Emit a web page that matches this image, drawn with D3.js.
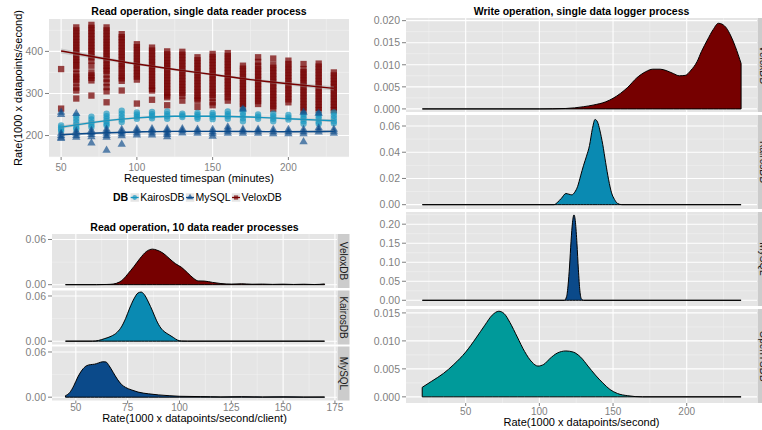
<!DOCTYPE html>
<html lang="en">
<head>
<meta charset="utf-8">
<title>Read / write rates</title>
<script src="https://cdn.jsdelivr.net/npm/d3@7"></script>
<style>
    body { margin: 0; background: #fff; }
    svg { display: block; font-family: "Liberation Sans", Arial, sans-serif; }
    .grid-major { stroke: #fff; stroke-width: 1.1; }
    .grid-minor { stroke: #f2f2f2; stroke-width: 0.6; }
    .tick { stroke: #7f7f7f; stroke-width: 1; }
    .tick-label { fill: #7f7f7f; font-size: 10.5px; }
    .title { font-weight: bold; font-size: 10.5px; text-anchor: middle; }
    .axis-title { font-size: 11px; text-anchor: middle; }
    .strip-text { font-size: 10px; fill: #1a1a1a; }
</style>
</head>
<body>
<div id="chart"></div>
<script>
// ---- data: read operation, single reader (scatter) ----
const timespans = [50, 60, 70, 80, 90, 100, 110, 120, 130, 140, 150, 160, 170, 180, 190, 200, 210, 220, 230];

const veloxRuns = [
    [358, 264],
    [457, 450, 443, 436, 429, 422, 415, 408, 401, 394, 387, 380, 373, 366, 358, 347, 340, 333, 326, 314, 307, 288],
    [463, 456, 449, 442, 435, 428, 421, 414, 407, 400, 393, 386, 378, 366, 350, 343, 337, 331, 295],
    [457, 450, 443, 436, 429, 422, 415, 408, 401, 394, 387, 380, 373, 366, 359, 354, 345, 335, 326, 315, 305, 279],
    [441, 434, 428, 421, 414, 407, 400, 393, 386, 379, 372, 365, 358, 350, 343, 336, 330, 307],
    [417, 410, 403, 396, 389, 382, 375, 368, 361, 354, 347, 340, 333, 276],
    [409, 402, 395, 388, 381, 374, 367, 360, 353, 346, 339, 332, 325, 318, 311, 307, 285],
    [400, 393, 386, 379, 372, 365, 358, 351, 344, 337, 330, 323, 316, 309, 302, 295, 291, 272],
    [399, 392, 385, 378, 371, 364, 357, 350, 343, 336, 329, 322, 315, 308, 301, 295, 283],
    [386, 379, 372, 365, 358, 351, 344, 337, 330, 323, 316, 309, 302, 295, 288, 283, 268],
    [394, 387, 380, 373, 366, 359, 352, 345, 338, 331, 324, 317, 310, 303, 296, 289, 279, 272],
    [396, 389, 382, 375, 368, 361, 354, 347, 340, 333, 326, 319, 312, 305, 298, 291, 283],
    [366, 359, 352, 345, 338, 331, 324, 317, 310, 303, 296, 289, 282, 275, 268],
    [386, 375, 366, 359, 352, 345, 338, 331, 324, 317, 310, 303, 296, 289, 282, 275],
    [383, 368, 361, 354, 347, 340, 333, 326, 319, 312, 305, 298, 291, 284, 277, 270, 263],
    [378, 370, 363, 356, 349, 342, 335, 328, 321, 314, 307, 300, 293, 286, 279],
    [370, 358, 351, 344, 337, 330, 323, 316, 309, 302, 295, 288, 281, 274, 267, 260],
    [371, 364, 357, 350, 343, 336, 329, 322, 315, 308, 301, 294, 287, 280, 273, 266, 260],
    [350, 343, 336, 329, 322, 315, 308, 301, 294, 287, 280, 273, 266, 260]
];

const kairosRuns = [
    [224, 219, 215, 210],
    [247, 240, 233, 226, 220, 215],
    [245, 238, 231, 225, 220],
    [252, 246, 240, 234, 228, 224],
    [259, 252, 245, 238, 232],
    [255, 250, 245, 240],
    [256, 251, 246, 241],
    [257, 251, 246, 240],
    [252, 248, 244],
    [254, 249, 244, 240],
    [254, 249, 244, 239],
    [257, 251, 246, 240],
    [262, 255, 248, 241, 234],
    [250, 245, 240],
    [252, 246, 240, 234],
    [249, 243, 238],
    [252, 246, 240, 234, 228],
    [252, 246, 240, 233, 228],
    [255, 248, 241, 234, 229]
];

const mysqlRuns = [
    [205, 200, 196, 193, 255, 250],
    [210, 205, 200, 196, 252],
    [212, 207, 202, 197, 182],
    [215, 210, 205, 200, 196, 165],
    [214, 209, 204, 199, 179],
    [216, 211, 206, 201],
    [216, 211, 206, 201],
    [216, 211, 206, 202, 197],
    [216, 211, 206],
    [215, 210, 205],
    [214, 209, 204, 198],
    [220, 215, 210, 205],
    [215, 210, 205, 263],
    [215, 210, 205],
    [214, 209, 204],
    [214, 209, 204],
    [214, 209, 204, 255, 185],
    [218, 213, 208, 253],
    [215, 210, 205]
];

// smoothed trend (loess), with its error band half-width
const fitX = [50, 75, 100, 125, 150, 175, 200, 230];
const veloxFit = [401, 385, 370, 357, 345, 333, 323, 312];
const kairosFit = [220, 233, 242, 246, 246, 244, 240, 235];
const mysqlFit = [202, 206, 208.5, 210, 210, 209.5, 209, 210];
const veloxSe = [6, 4, 3, 3, 3, 3, 4, 5];
const kairosSe = [4, 2.5, 2, 2, 2, 2, 2.5, 3.5];
const mysqlSe = [3, 2, 1.5, 1.5, 1.5, 1.5, 2, 3];

// ---- data: read operation, 10 reader processes (densities) ----
const readVelox = [[45,0],[60,0],[65,0.0003],[68,0.0008],[71,0.0035],[73,0.0075],[75,0.014],[78,0.024],[81,0.035],[84,0.044],[87,0.0472],[89,0.046],[92,0.042],[95,0.035],[98,0.028],[101,0.023],[104,0.0155],[107,0.008],[109,0.005],[112,0.0048],[116,0.003],[120,0.0015],[125,0.0008],[130,0.0012],[135,0.0006],[140,0.0008],[145,0.0004],[150,0.0007],[155,0.0003],[160,0.0006],[165,0.0002],[170,0.0010]];
const readKairos = [[45,0],[58,0],[61,0.001],[64,0.0035],[67,0.0065],[70,0.012],[72,0.019],[74,0.030],[76,0.044],[78,0.056],[80,0.064],[81.5,0.0652],[83,0.062],[85,0.052],[87,0.040],[89,0.027],[91,0.0175],[93,0.012],[95,0.0085],[97,0.005],[99,0.0015],[101,0.0002],[104,0],[170,0]];
const readMysql = [[45,0.002],[47,0.006],[49,0.015],[51,0.027],[53,0.036],[55,0.0415],[57,0.0432],[59,0.0438],[61,0.0455],[63,0.047],[64.5,0.0468],[66,0.042],[68,0.033],[70,0.024],[72,0.017],[74,0.013],[77,0.0095],[80,0.0068],[85,0.0045],[90,0.003],[95,0.002],[100,0.0012],[110,0.0008],[115,0.0006],[120,0.0004],[130,0.0007],[140,0.0003],[150,0.0005],[160,0.0002],[170,0.0003]];

// ---- data: write operation, single logger (densities) ----
const writeVelox = [[20.6,0],[100,0],[118,0.0001],[130,0.0005],[137,0.0009],[145,0.0016],[150,0.0024],[155,0.0035],[160,0.0049],[166,0.0070],[172,0.0084],[177,0.0090],[182,0.0090],[186,0.0087],[191,0.0080],[195,0.0075],[199,0.0076],[203,0.0088],[207,0.0107],[210,0.0130],[214,0.0156],[218,0.0180],[221.5,0.0194],[224,0.0192],[227,0.0183],[230,0.0165],[233,0.0141],[236.9,0.0103]];
const writeKairos = [[20.6,0],[110,0],[112.5,0.002],[115,0.0049],[118,0.0085],[120,0.0080],[122,0.0075],[124,0.0095],[126,0.014],[128,0.022],[130,0.030],[132,0.037],[134,0.045],[136,0.058],[137.8,0.065],[139.5,0.063],[141,0.057],[143,0.046],[145,0.032],[147,0.019],[149,0.009],[151,0.004],[153,0.001],[156,0],[236.9,0]];
const writeMysql = [[20.6,0],[117,0],[118.5,0.01],[119.5,0.04],[120.5,0.09],[121.5,0.155],[122.5,0.205],[123.5,0.2245],[124.5,0.205],[125.5,0.15],[126.5,0.08],[127.5,0.025],[128.5,0.004],[130,0],[236.9,0]];
const writeOpentsdb = [[20.5,0.0017],[27,0.0028],[35,0.0042],[42,0.0058],[50,0.0080],[57,0.0105],[63,0.0128],[68,0.0146],[72.5,0.0153],[76,0.0149],[80,0.0133],[85,0.0107],[90,0.0081],[95,0.0062],[99,0.0055],[103,0.0058],[107,0.0068],[112,0.0078],[118,0.0082],[123,0.0080],[128,0.0071],[133,0.0055],[138,0.0039],[143,0.0025],[148,0.0013],[153,0.0006],[160,0.0002],[170,0],[236.9,0]];

const COLORS = {
    VeloxDB: "#760000",
    KairosDB: "#0a8ab2",
    MySQL: "#0b4a8a",
    OpenTSDB: "#009a9a"
};

const WIDTH = 762, HEIGHT = 430;

let svg = d3.select("#chart").append("svg")
    .attr("width", WIDTH)
    .attr("height", HEIGHT)
    .style("overflow", "hidden");

// draws the grey panel, grid lines and axes for one facet
function drawPanel(x, y, opts) {
    let g = svg.append("g");
    let [x0, x1] = x.range();
    let [y0, y1] = y.range();   // y0 = bottom, y1 = top
    g.append("rect")
        .attr("x", x0).attr("y", y1)
        .attr("width", x1 - x0).attr("height", y0 - y1)
        .attr("fill", "#e5e5e5");

    g.selectAll(".gx-minor").data(opts.xMinor).enter().append("line")
        .attr("class", "grid-minor")
        .attr("x1", d => x(d)).attr("x2", d => x(d))
        .attr("y1", y1).attr("y2", y0);
    g.selectAll(".gy-minor").data(opts.yMinor).enter().append("line")
        .attr("class", "grid-minor")
        .attr("x1", x0).attr("x2", x1)
        .attr("y1", d => y(d)).attr("y2", d => y(d));
    g.selectAll(".gx-major").data(opts.xMajor).enter().append("line")
        .attr("class", "grid-major")
        .attr("x1", d => x(d)).attr("x2", d => x(d))
        .attr("y1", y1).attr("y2", y0);
    g.selectAll(".gy-major").data(opts.yMajor).enter().append("line")
        .attr("class", "grid-major")
        .attr("x1", x0).attr("x2", x1)
        .attr("y1", d => y(d)).attr("y2", d => y(d));

    // y ticks
    g.selectAll(".ty").data(opts.yMajor).enter().append("line")
        .attr("class", "tick")
        .attr("x1", x0 - 4).attr("x2", x0)
        .attr("y1", d => y(d)).attr("y2", d => y(d));
    g.selectAll(".ly").data(opts.yMajor).enter().append("text")
        .attr("class", "tick-label")
        .attr("x", x0 - 6)
        .attr("y", d => y(d))
        .attr("dy", "0.36em")
        .attr("text-anchor", "end")
        .text(opts.yFormat);

    if (opts.showX) {
        g.selectAll(".tx").data(opts.xMajor).enter().append("line")
            .attr("class", "tick")
            .attr("x1", d => x(d)).attr("x2", d => x(d))
            .attr("y1", y0).attr("y2", y0 + 3);
        g.selectAll(".lx").data(opts.xMajor).enter().append("text")
            .attr("class", "tick-label")
            .style("font-size", "10px")
            .attr("x", d => x(d))
            .attr("y", y0 + opts.labelGap)
            .attr("text-anchor", "middle")
            .text(d => d);
    }

    if (opts.strip) {
        let sx = x1 + 0.5, sw = 12;
        g.append("rect")
            .attr("x", sx).attr("y", y1)
            .attr("width", sw).attr("height", y0 - y1)
            .attr("fill", "#cccccc");
        g.append("text")
            .attr("class", "strip-text")
            .attr("transform", "translate(" + (sx + sw / 2) + "," + ((y0 + y1) / 2) + ") rotate(90)")
            .attr("text-anchor", "middle")
            .attr("dy", "0.35em")
            .text(opts.strip);
    }
    return g;
}

function drawDensity(x, y, data, color) {
    let area = d3.area()
        .x(d => x(d[0]))
        .y0(y(0))
        .y1(d => y(d[1]))
        .curve(d3.curveMonotoneX);
    svg.append("path")
        .datum(data)
        .attr("d", area)
        .attr("fill", color)
        .attr("stroke", "#000")
        .attr("stroke-width", 1)
        .attr("stroke-linejoin", "round");
}

// ================= top left: scatter =================
let xTL = d3.scaleLinear().domain([42, 240]).range([49, 349]);
let yTL = d3.scaleLinear().domain([149, 477]).range([157, 19]);

drawPanel(xTL, yTL, {
    xMajor: [50, 100, 150, 200], xMinor: [75, 125, 175, 225],
    yMajor: [200, 300, 400], yMinor: [150, 250, 350, 450],
    yFormat: d => d, showX: true, labelGap: 13.5
});

svg.append("text").attr("class", "title")
    .attr("x", 199).attr("y", 15)
    .text("Read operation, single data reader process");
svg.append("text").attr("class", "axis-title")
    .attr("x", 199).attr("y", 182)
    .text("Requested timespan (minutes)");
svg.append("text").attr("class", "axis-title")
    .attr("transform", "translate(22,88) rotate(-90)")
    .text("Rate(1000 x datapoints/second)");

function drawRuns(runs, shape, size, color, alpha) {
    let pts = [];
    runs.forEach((vals, i) => vals.forEach(v => pts.push([timespans[i], v])));
    let sym = d3.symbol().type(shape).size(size);
    svg.append("g").selectAll("path").data(pts).enter().append("path")
        .attr("d", sym)
        .attr("transform", d => "translate(" + xTL(d[0]) + "," + yTL(d[1]) + ")")
        .attr("fill", color)
        .attr("fill-opacity", alpha);
}
drawRuns(veloxRuns, d3.symbolSquare, 40, COLORS.VeloxDB, 0.72);
drawRuns(kairosRuns, d3.symbolCircle, 32, "#1596c0", 0.65);
drawRuns(mysqlRuns, d3.symbolTriangle, 30, COLORS.MySQL, 0.65);

function drawFit(fit, se, color) {
    let rows = fitX.map((x, i) => [x, fit[i], se[i]]);
    svg.append("path").datum(rows)
        .attr("d", d3.area()
            .x(d => xTL(d[0])).y0(d => yTL(d[1] - d[2])).y1(d => yTL(d[1] + d[2]))
            .curve(d3.curveMonotoneX))
        .attr("fill", "#999").attr("fill-opacity", 0.4);
    svg.append("path").datum(rows)
        .attr("d", d3.line().x(d => xTL(d[0])).y(d => yTL(d[1])).curve(d3.curveMonotoneX))
        .attr("fill", "none").attr("stroke", color).attr("stroke-width", 1.4);
}
drawFit(veloxFit, veloxSe, COLORS.VeloxDB);
drawFit(kairosFit, kairosSe, "#1596c0");
drawFit(mysqlFit, mysqlSe, COLORS.MySQL);

// legend
let legendItems = [
    {name: "KairosDB", shape: d3.symbolCircle, color: "#1596c0"},
    {name: "MySQL", shape: d3.symbolTriangle, color: COLORS.MySQL},
    {name: "VeloxDB", shape: d3.symbolSquare, color: COLORS.VeloxDB}
];
let lg = svg.append("g").attr("transform", "translate(0,197.5)");
let dbText = lg.append("text")
    .attr("x", 113).attr("dy", "0.36em")
    .attr("font-weight", "bold").attr("font-size", "10.5px")
    .text("DB");
let lx = 113 + dbText.node().getComputedTextLength() + 2;
legendItems.forEach(item => {
    lg.append("rect").attr("x", lx).attr("y", -4.5).attr("width", 9).attr("height", 9)
        .attr("fill", "#e5e5e5").attr("stroke", "#fff").attr("stroke-width", 0.5);
    lg.append("line").attr("x1", lx + 0.5).attr("x2", lx + 8.5)
        .attr("stroke", item.color).attr("stroke-width", 1.3);
    lg.append("path").attr("d", d3.symbol().type(item.shape).size(18)())
        .attr("transform", "translate(" + (lx + 4.5) + ",0)")
        .attr("fill", item.color).attr("fill-opacity", 0.7);
    let t = lg.append("text").attr("x", lx + 10).attr("dy", "0.36em")
        .attr("font-size", "10.5px").text(item.name);
    lx += 10 + t.node().getComputedTextLength() + 1;
});

// ================= bottom left: densities =================
svg.append("text").attr("class", "title")
    .attr("x", 194.5).attr("y", 231)
    .text("Read operation, 10 data reader processes");
svg.append("text").attr("class", "axis-title")
    .attr("x", 194.5).attr("y", 422)
    .text("Rate(1000 x datapoints/second/client)");

let xBL = d3.scaleLinear().domain([38.5, 176]).range([52, 337]);
let blPanels = [
    {name: "VeloxDB", data: readVelox, top: 234},
    {name: "KairosDB", data: readKairos, top: 290.5},
    {name: "MySQL", data: readMysql, top: 346.5}
];
blPanels.forEach((p, i) => {
    let y = d3.scaleLinear().domain([-0.0044, 0.0673]).range([p.top + 54, p.top]);
    drawPanel(xBL, y, {
        xMajor: [50, 75, 100, 125, 150, 175], xMinor: [62.5, 87.5, 112.5, 137.5, 162.5],
        yMajor: [0, 0.06], yMinor: [0.03],
        yFormat: d3.format(".2f"), showX: i == blPanels.length - 1, strip: p.name,
        labelGap: 10
    });
    drawDensity(xBL, y, p.data, COLORS[p.name]);
});

// ================= right: write densities =================
svg.append("text").attr("class", "title")
    .attr("x", 581.5).attr("y", 15)
    .text("Write operation, single data logger process");
svg.append("text").attr("class", "axis-title")
    .attr("x", 581.5).attr("y", 425.5)
    .text("Rate(1000 x datapoints/second)");

let xR = d3.scaleLinear().domain([9.5, 247.7]).range([406, 757]);
let rPanels = [
    {name: "VeloxDB", data: writeVelox, top: 18, domain: [-0.0007, 0.0206],
     major: [0, 0.005, 0.01, 0.015, 0.02], minor: [0.0025, 0.0075, 0.0125, 0.0175], fmt: ".3f"},
    {name: "KairosDB", data: writeKairos, top: 115, domain: [-0.0033, 0.0684],
     major: [0, 0.02, 0.04, 0.06], minor: [0.01, 0.03, 0.05], fmt: ".2f"},
    {name: "MySQL", data: writeMysql, top: 212, domain: [-0.015, 0.232],
     major: [0, 0.05, 0.1, 0.15, 0.2], minor: [0.025, 0.075, 0.125, 0.175, 0.225], fmt: ".2f"},
    {name: "OpenTSDB", data: writeOpentsdb, top: 309, domain: [-0.0011, 0.0157],
     major: [0, 0.005, 0.01, 0.015], minor: [0.0025, 0.0075, 0.0125], fmt: ".3f"}
];
rPanels.forEach((p, i) => {
    let y = d3.scaleLinear().domain(p.domain).range([p.top + 94, p.top]);
    drawPanel(xR, y, {
        xMajor: [50, 100, 150, 200], xMinor: [25, 75, 125, 175, 225],
        yMajor: p.major, yMinor: p.minor,
        yFormat: d3.format(p.fmt), showX: i == rPanels.length - 1, strip: p.name,
        labelGap: 11.5
    });
    drawDensity(xR, y, p.data, COLORS[p.name]);
});
</script>
</body>
</html>
